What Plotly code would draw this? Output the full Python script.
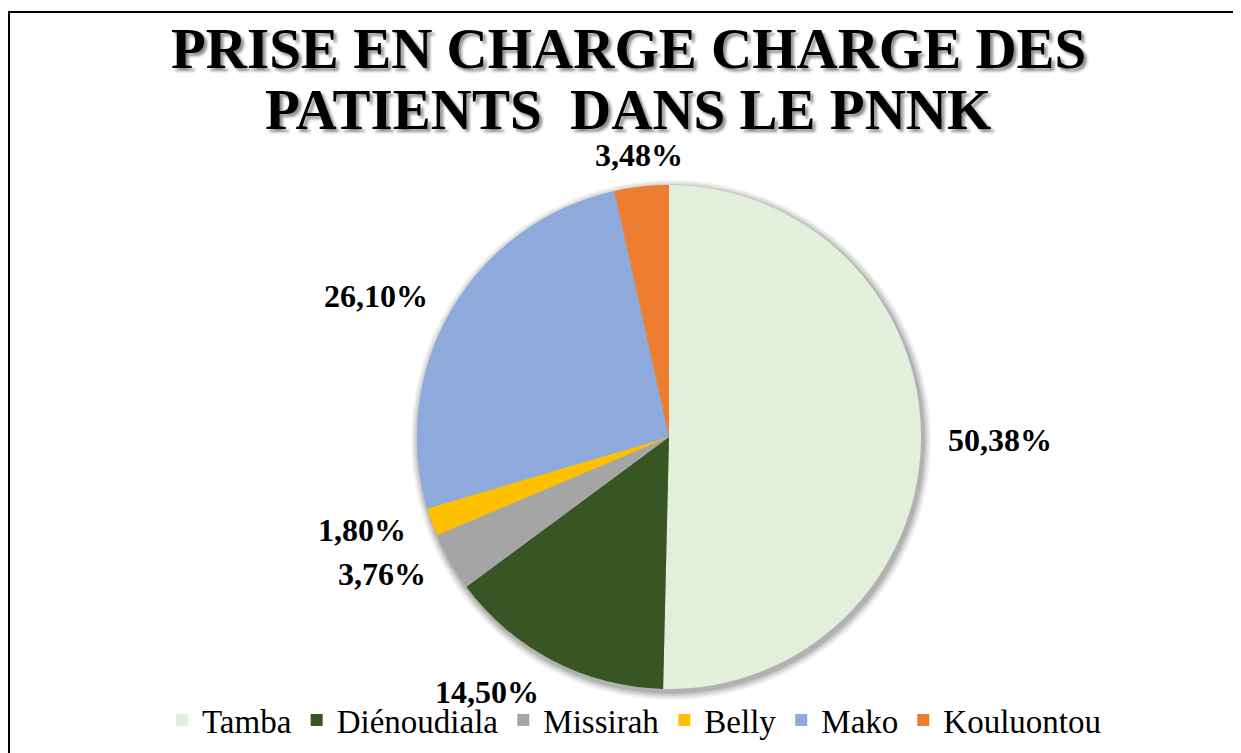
import math
import plotly.graph_objects as go

categories = ["Tamba", "Diénoudiala", "Missirah", "Belly", "Mako", "Kouluontou"]
values = [50.38, 14.50, 3.76, 1.80, 26.10, 3.48]
colors = ["#E2EFDA", "#375623", "#A5A5A5", "#FFC000", "#8EA9DB", "#ED7D31"]
title_lines = ["PRISE EN CHARGE CHARGE DES", "PATIENTS  DANS LE PNNK"]

OFF = 8  # page body margin
W, H = 1241 - OFF, 753 - OFF
CX, CY, R = 669, 437, 252  # pie centre / radius in page pixels
SERIF = "Liberation Serif"
GAP = 25


def px(x):
    return (x - OFF) / W


def py(y):
    return 1 - (y - OFF) / H


fig = go.Figure()

# soft shadow behind pie
for d, op in [(8, 0.05), (6, 0.07), (4, 0.09), (2, 0.12)]:
    fig.add_shape(type="circle", xref="paper", yref="paper",
                  x0=px(CX - R - d + 2), x1=px(CX + R + d + 2),
                  y0=py(CY + R + d + 3), y1=py(CY - R - d + 3),
                  line=dict(width=0), fillcolor=f"rgba(0,0,0,{op})", layer="below")

fig.add_trace(go.Pie(
    labels=categories, values=values, sort=False, direction="clockwise", rotation=0,
    marker=dict(colors=colors, line=dict(width=0)),
    textinfo="none",
    domain=dict(x=[px(CX - R), px(CX + R)], y=[py(CY + R), py(CY - R)]),
    hoverinfo="label+percent", showlegend=True,
))

# data labels placed just outside each slice's mid-angle (best-fit style)
total = sum(values)
cum = 0.0
for v in values:
    theta = 2 * math.pi * (cum + v / 2) / total
    cum += v
    s, c = math.sin(theta), math.cos(theta)
    ax = CX + (R + GAP) * s
    ay = CY - (R + GAP) * c
    xa = "left" if s > 0.3 else ("right" if s < -0.3 else "center")
    if c > 0.6:
        ya, ys = "bottom", -13
    elif c < -0.6:
        ya, ys = "top", 11
    else:
        ya, ys = "middle", 0
    fig.add_annotation(text=f"<b>{v:.2f}%</b>".replace(".", ","), xref="paper", yref="paper",
                       x=px(ax), y=py(ay), xanchor=xa, yanchor=ya, yshift=ys,
                       showarrow=False, font=dict(family=SERIF, size=32, color="black"))

# border
fig.add_shape(type="rect", xref="paper", yref="paper", x0=1 / W, x1=1.01, y0=-0.01,
              y1=py(12), line=dict(color="black", width=2), layer="above")

# title lines
for txt, yc in zip(title_lines, [48, 109]):
    fig.add_annotation(text=f"<b>{txt}</b>", xref="paper", yref="paper",
                       x=px(628), y=py(yc), xanchor="center", yanchor="middle",
                       showarrow=False,
                       font=dict(family=SERIF, size=57, color="black",
                                 shadow="3px 3px 3px rgba(0,0,0,0.45)"))

fig.update_layout(
    width=W, height=H, separators=", ",
    paper_bgcolor="white", plot_bgcolor="white",
    margin=dict(l=0, r=0, t=0, b=0),
    legend=dict(orientation="h", x=px(634), xanchor="center", y=py(720),
                yanchor="middle",
                font=dict(family=SERIF, size=33, color="black"),
                itemsizing="constant", traceorder="normal", bgcolor="rgba(0,0,0,0)"),
    font=dict(family=SERIF),
)

fig.write_html("out.html")
